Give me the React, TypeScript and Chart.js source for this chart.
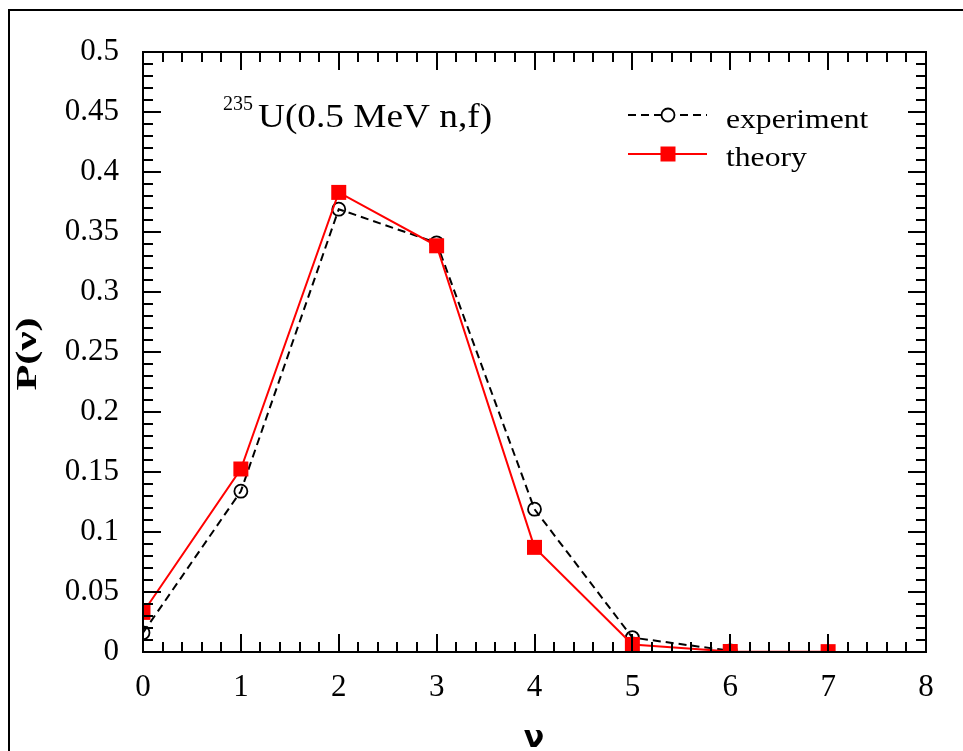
import React, { useEffect, useRef } from 'react';
import { Chart, registerables } from 'chart.js';

Chart.register(...registerables);

// ---- data ----
const nuExperiment = [0, 1, 2, 3, 4, 5, 6];
const experimentValues = [0.016, 0.134, 0.369, 0.341, 0.119, 0.012, 0.001];
const nuTheory = [0, 1, 2, 3, 4, 5, 6, 7];
const theoryValues = [0.033, 0.1525, 0.383, 0.3385, 0.0872, 0.0063, 0.0004, 0.0003];

const xTickValues = [0, 1, 2, 3, 4, 5, 6, 7, 8];
const xTickLabels = ['0', '1', '2', '3', '4', '5', '6', '7', '8'];
const yTickValues = [0, 0.05, 0.1, 0.15, 0.2, 0.25, 0.3, 0.35, 0.4, 0.45, 0.5];
const yTickLabels = ['0', '0.05', '0.1', '0.15', '0.2', '0.25', '0.3', '0.35', '0.4', '0.45', '0.5'];
const minorDivisions = 5;

const seriesNames = ['experiment', 'theory'];
const annotationSup = '235';
const annotationMain = 'U(0.5 MeV n,f)';
const xTitle = 'ν';
const yTitle = 'P(ν)';

const SERIF = '"Liberation Serif", "Times New Roman", serif';
const STRETCH = 1.13;

const decorPlugin = {
  id: 'decor',
  afterDatasetsDraw(chart: any) {
    const ctx = chart.ctx as CanvasRenderingContext2D;
    const { left, right, top, bottom } = chart.chartArea;
    const xs = chart.scales.x;
    const ys = chart.scales.y;
    ctx.save();
    ctx.strokeStyle = '#000';
    ctx.lineWidth = 2;
    ctx.lineCap = 'butt';

    // outer frame
    ctx.strokeRect(9, 10, 2000, 2000);
    // plot frame
    ctx.strokeRect(left, top, right - left, bottom - top);

    const major = 18;
    const minor = 10;
    ctx.beginPath();
    for (let i = 0; i < xTickValues.length; i++) {
      const a = xTickValues[i];
      const steps = i < xTickValues.length - 1 ? minorDivisions : 1;
      const b = i < xTickValues.length - 1 ? xTickValues[i + 1] : a;
      for (let j = 0; j < steps; j++) {
        const v = a + ((b - a) * j) / minorDivisions;
        const px = Math.round(xs.getPixelForValue(v));
        const len = j === 0 ? major : minor;
        ctx.moveTo(px, bottom);
        ctx.lineTo(px, bottom - len);
        ctx.moveTo(px, top);
        ctx.lineTo(px, top + len);
      }
    }
    for (let i = 0; i < yTickValues.length; i++) {
      const a = yTickValues[i];
      const steps = i < yTickValues.length - 1 ? minorDivisions : 1;
      const b = i < yTickValues.length - 1 ? yTickValues[i + 1] : a;
      for (let j = 0; j < steps; j++) {
        const v = a + ((b - a) * j) / minorDivisions;
        const py = Math.round(ys.getPixelForValue(v));
        const len = j === 0 ? major : minor;
        ctx.moveTo(left, py);
        ctx.lineTo(left + len, py);
        ctx.moveTo(right, py);
        ctx.lineTo(right - len, py);
      }
    }
    ctx.stroke();

    // annotation
    ctx.fillStyle = '#000';
    ctx.textBaseline = 'alphabetic';
    ctx.textAlign = 'left';
    ctx.save();
    ctx.translate(223, 110);
    ctx.font = `20px ${SERIF}`;
    ctx.fillText(annotationSup, 0, 0);
    ctx.restore();
    ctx.save();
    ctx.translate(258, 127);
    ctx.scale(STRETCH, 1);
    ctx.font = `33px ${SERIF}`;
    ctx.fillText(annotationMain, 0, 0);
    ctx.restore();

    // legend
    const ds = chart.data.datasets;
    const rows = [115, 154];
    const baselines = [128, 166];
    for (let i = 0; i < ds.length; i++) {
      const d = ds[i];
      const y = rows[i];
      ctx.save();
      ctx.strokeStyle = d.borderColor;
      ctx.lineWidth = d.borderWidth;
      ctx.setLineDash(d.borderDash || []);
      ctx.beginPath();
      ctx.moveTo(628, y);
      ctx.lineTo(707, y);
      ctx.stroke();
      ctx.setLineDash([]);
      const cx = 668;
      if (d.pointStyle === 'rect') {
        const s = Math.SQRT1_2 * d.pointRadius;
        ctx.fillStyle = d.pointBackgroundColor;
        ctx.fillRect(cx - s, y - s, 2 * s, 2 * s);
      } else {
        ctx.fillStyle = '#fff';
        ctx.strokeStyle = d.pointBorderColor;
        ctx.lineWidth = d.pointBorderWidth;
        ctx.beginPath();
        ctx.arc(cx, y, d.pointRadius, 0, Math.PI * 2);
        ctx.fill();
        ctx.stroke();
      }
      ctx.restore();
      ctx.save();
      ctx.fillStyle = '#000';
      ctx.translate(726, baselines[i]);
      ctx.scale(STRETCH, 1);
      ctx.font = `28px ${SERIF}`;
      ctx.fillText(d.label, 0, 0);
      ctx.restore();
    }

    // axis titles
    ctx.save();
    ctx.translate(28, 354);
    ctx.rotate(-Math.PI / 2);
    ctx.font = `bold 30px ${SERIF}`;
    const w = ctx.measureText(yTitle).width;
    ctx.scale(73 / w, 1);
    ctx.textAlign = 'center';
    ctx.textBaseline = 'middle';
    ctx.fillStyle = '#000';
    ctx.fillText(yTitle, 0, 0);
    ctx.restore();

    ctx.save();
    ctx.translate(534, 739);
    ctx.font = `bold 30px "DejaVu Sans", sans-serif`;
    ctx.textAlign = 'center';
    ctx.textBaseline = 'middle';
    ctx.fillStyle = '#000';
    ctx.fillText(xTitle, 0, 0);
    ctx.restore();

    ctx.restore();
  },
};

export default function App() {
  const ref = useRef<HTMLCanvasElement | null>(null);
  useEffect(() => {
    if (!ref.current) return;
    const chart = new Chart(ref.current, {
      type: 'line',
      data: {
        datasets: [
          {
            label: seriesNames[0],
            data: nuExperiment.map((x, i) => ({ x, y: experimentValues[i] })),
            borderColor: '#000',
            borderWidth: 2,
            borderDash: [8, 5],
            pointStyle: 'circle',
            pointRadius: 6.5,
            pointBorderWidth: 1.8,
            pointBorderColor: '#000',
            pointBackgroundColor: 'rgba(0,0,0,0)',
            tension: 0,
            order: 2,
          } as any,
          {
            label: seriesNames[1],
            data: nuTheory.map((x, i) => ({ x, y: theoryValues[i] })),
            borderColor: '#ff0000',
            borderWidth: 2,
            pointStyle: 'rect',
            pointRadius: 10.6,
            pointBorderWidth: 0,
            pointBorderColor: '#ff0000',
            pointBackgroundColor: '#ff0000',
            tension: 0,
            order: 1,
          } as any,
        ],
      },
      options: {
        responsive: false,
        animation: false,
        events: [],
        layout: { padding: { left: 0, top: 52, right: 37, bottom: 0 } },
        plugins: { legend: { display: false }, tooltip: { enabled: false }, title: { display: false } },
        scales: {
          x: {
            type: 'linear',
            min: 0,
            max: 8,
            afterBuildTicks: (s: any) => {
              s.ticks = xTickValues.map((v) => ({ value: v }));
            },
            afterFit: (s: any) => {
              s.height = 99;
            },
            ticks: {
              autoSkip: false,
              maxRotation: 0,
              padding: 9,
              color: '#000',
              font: { family: SERIF, size: 31 },
              callback: (_v: any, i: number) => xTickLabels[i],
            },
            grid: { display: false },
            border: { display: false },
          },
          y: {
            type: 'linear',
            min: 0,
            max: 0.5,
            afterBuildTicks: (s: any) => {
              s.ticks = yTickValues.map((v) => ({ value: v }));
            },
            afterFit: (s: any) => {
              s.width = 143;
            },
            ticks: {
              autoSkip: false,
              padding: 16,
              color: '#000',
              font: { family: SERIF, size: 31 },
              callback: (_v: any, i: number) => yTickLabels[i],
            },
            grid: { display: false },
            border: { display: false },
          },
        },
      },
      plugins: [decorPlugin],
    });
    return () => chart.destroy();
  }, []);
  return (
    <div style={{ position: 'fixed', left: 0, top: 0, width: 963, height: 751, background: '#fff' }}>
      <canvas ref={ref} width={963} height={751} style={{ display: 'block' }} />
    </div>
  );
}
